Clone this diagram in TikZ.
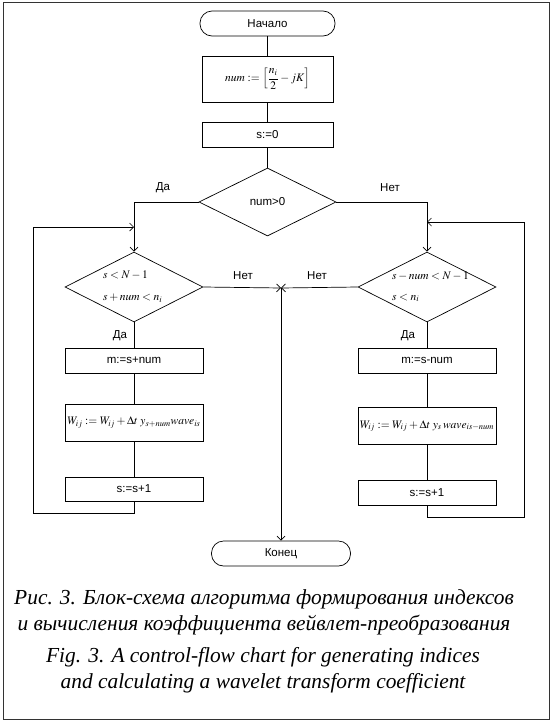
\documentclass[tikz,border=0pt]{standalone}
\usepackage{mathptmx}
\usepackage{fontspec}
\setmainfont{Liberation Serif}
\newfontfamily\flowfont{Liberation Sans}
\usepackage{amsmath}
\usetikzlibrary{shapes.geometric,arrows.meta}

\begin{document}
\begin{tikzpicture}[
    x=1pt, y=-1pt,
    every node/.style={color=black, font=\flowfont\fontsize{11.5}{13}\selectfont},
    conn/.style={line width=0.7pt},
    pile/.style={line width=0.7pt, ->, >={Straight Barb[length=4pt,width=8pt]}},
    term/.style={draw, line width=0.7pt, rectangle, rounded corners=12pt,
        minimum width=135pt, minimum height=25pt, inner sep=0pt},
    proc/.style={draw, line width=0.7pt, rectangle,
        minimum width=138pt, minimum height=25pt, inner sep=0pt},
    cond/.style={draw, line width=0.7pt, diamond,
        minimum width=138pt, minimum height=70pt, inner sep=0pt},
    condtext/.style={anchor=west, inner sep=0pt},
    caption/.style={font=\itshape\fontsize{21.4}{26}\selectfont, align=center}
    ]
    \useasboundingbox (0,0) rectangle (553,723);
    % Frame
    \draw[line width=1pt, black!80] (3,2) rectangle (549,719);
    % Main column
    \node[term] (start) at (267.5,23.5) {Начало};
    \node[proc, minimum width=131pt, minimum height=46pt] (numset) at (267.5,79)
        {$num:=\left[\dfrac{n_i}{2}-jK\right]$};
    \node[proc, minimum width=131pt] (szero) at (267.5,134.5) {s:=0};
    \node[cond, minimum width=137pt, minimum height=68pt] (numpos) at (267.5,202) {num>0};
    % Left branch
    \node[cond] (lcheck) at (134,287) {};
    \node[condtext] (lchecka) at (103,275) {$s<N-1$};
    \node[condtext] (lcheckb) at (103,298) {$s+num<n_i$};
    \node[proc] (lm) at (134,360.5) {m:=s+num};
    \node[proc, minimum height=37pt] (lw) at (134,422.5)
        {$W_{ij}:=W_{ij}+\Delta t\;y_{s+num}wave_{is}$};
    \node[proc, minimum height=24pt] (linc) at (134,489) {s:=s+1};
    % Right branch
    \node[cond] (rcheck) at (427,287) {};
    \node[condtext] (rchecka) at (392,276) {$s-num<N-1$};
    \node[condtext] (rcheckb) at (392,298) {$s<n_i$};
    \node[proc] (rm) at (427,360.5) {m:=s-num};
    \node[proc, minimum height=37pt] (rw) at (427,426)
        {$W_{ij}:=W_{ij}+\Delta t\;y_s\,wave_{is-num}$};
    \node[proc] (rinc) at (427,492.5) {s:=s+1};
    % End
    \node[term, minimum width=139pt] (finish) at (281,553.5) {Конец};
    % Labels
    \node (yesa) at (163,188) {Да};
    \node (noa) at (390,188) {Нет};
    \node (nob) at (243,276) {Нет};
    \node (noc) at (317,276) {Нет};
    \node (yesb) at (120,336) {Да};
    \node (yesc) at (408,336) {Да};
    % Coordinates of joints
    \coordinate (merge) at (281,288);
    \coordinate (lbot) at (33,513);
    \coordinate (ljoin) at (134,227);
    \coordinate (rbot) at (524,517);
    \coordinate (rjoin) at (427,222);
    % Lines
    \draw[conn] (start) -- (numset);
    \draw[conn] (numset) -- (szero);
    \draw[conn] (szero) -- (numpos);
    \draw[pile] (numpos.west) -| (lcheck.north);
    \draw[pile] (numpos.east) -| (rcheck.north);
    \draw[conn] (lcheck) -- (lm);
    \draw[conn] (lm) -- (lw);
    \draw[conn] (lw) -- (linc);
    \draw[conn] (rcheck) -- (rm);
    \draw[conn] (rm) -- (rw);
    \draw[conn] (rw) -- (rinc);
    % Loops back to the checks
    \draw[pile] (linc.south) |- (lbot) |- (ljoin);
    \draw[pile] (rinc.south) |- (rbot) |- (rjoin);
    % Exits
    \draw[pile] (lcheck.east) -- (merge);
    \draw[pile] (rcheck.west) -- (merge);
    \draw[pile] (merge) -- (finish.north);
    % Caption
    \node[caption] (capru) at (264,612)
        {Рис. 3. Блок-схема алгоритма формирования индексов\\
         и вычисления коэффициента вейвлет-преобразования};
    \node[caption] (capen) at (263,670)
        {Fig. 3. A control-flow chart for generating indices\\
         and calculating a wavelet transform coefficient};
\end{tikzpicture}
\end{document}
